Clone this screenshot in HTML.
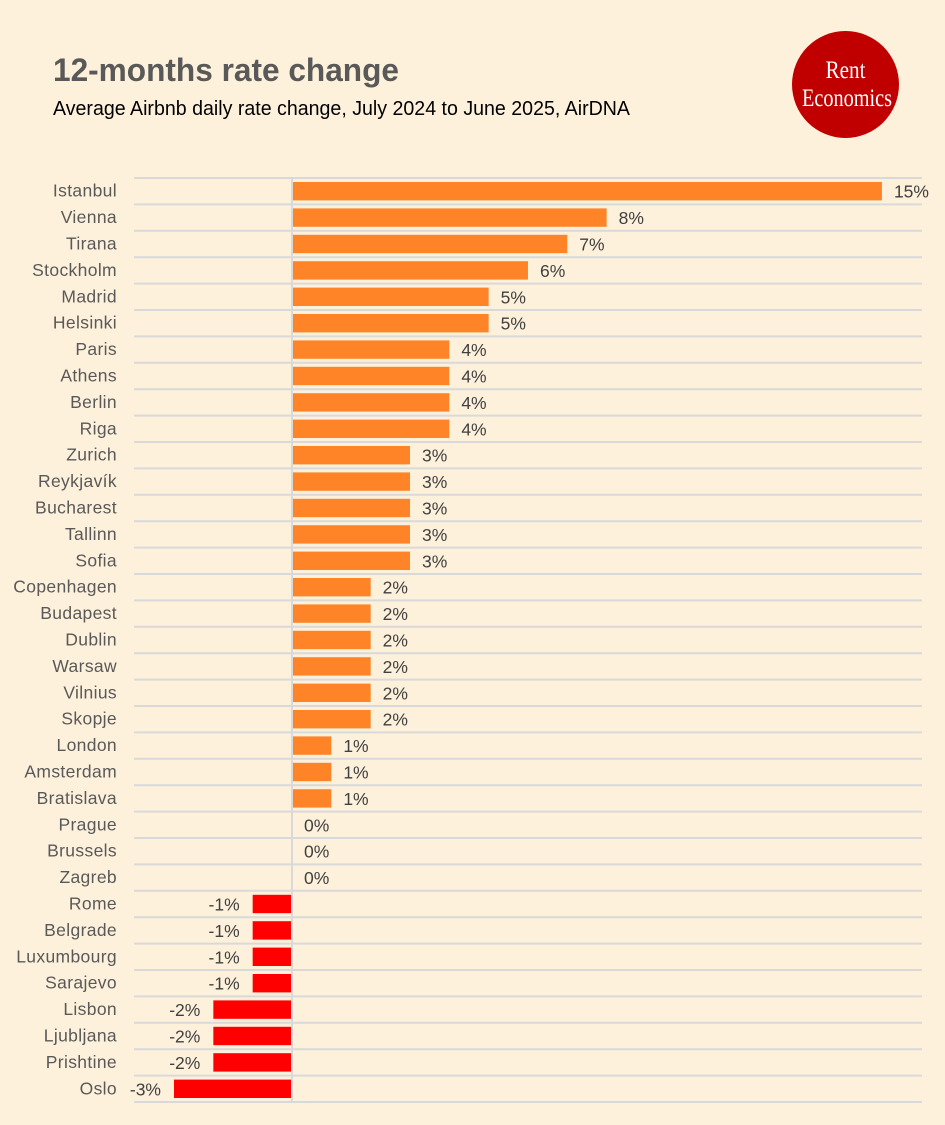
<!DOCTYPE html>
<html lang="en">
<head>
<meta charset="utf-8">
<title>12-months rate change</title>
<style>
html,body{margin:0;padding:0;background:#fef1dc;}
svg{display:block;font-family:"Liberation Sans",sans-serif;}
</style>
</head>
<body>
<svg id="chart" xmlns="http://www.w3.org/2000/svg" width="945" height="1125" viewBox="0 0 945 1125">
  <rect width="945" height="1125" fill="#fef1dc"/>
  <text x="53" y="81" font-size="32" font-weight="700" fill="#595959" textLength="346" lengthAdjust="spacingAndGlyphs">12-months rate change</text>
  <text x="53" y="115" font-size="20" fill="#000000" textLength="577" lengthAdjust="spacingAndGlyphs">Average Airbnb daily rate change, July 2024 to June 2025, AirDNA</text>
  <g>
    <circle cx="845.5" cy="84.5" r="53.5" fill="#c00000"/>
    <text x="845.5" y="78" font-size="25" fill="#ffffff" text-anchor="middle" textLength="40" lengthAdjust="spacingAndGlyphs" style="font-family:'Liberation Serif',serif">Rent</text>
    <text x="847" y="106" font-size="25" fill="#ffffff" text-anchor="middle" textLength="90" lengthAdjust="spacingAndGlyphs" style="font-family:'Liberation Serif',serif">Economics</text>
  </g>
  <g id="grid"></g>
  <g id="bars"></g>
  <g id="labels"></g>
  <g id="values"></g>
</svg>
<script>
const categories = ["Istanbul","Vienna","Tirana","Stockholm","Madrid","Helsinki","Paris","Athens","Berlin","Riga","Zurich","Reykjavík","Bucharest","Tallinn","Sofia","Copenhagen","Budapest","Dublin","Warsaw","Vilnius","Skopje","London","Amsterdam","Bratislava","Prague","Brussels","Zagreb","Rome","Belgrade","Luxumbourg","Sarajevo","Lisbon","Ljubljana","Prishtine","Oslo"];
const rateChange = [15,8,7,6,5,5,4,4,4,4,3,3,3,3,3,2,2,2,2,2,2,1,1,1,0,0,0,-1,-1,-1,-1,-2,-2,-2,-3];

const NS = "http://www.w3.org/2000/svg";
const plotTop = 178, plotBottom = 1102, plotLeft = 134, plotRight = 922;
const zeroX = 292, unitWidth = 39.33, barHeight = 18.4;
const bandHeight = (plotBottom - plotTop) / categories.length;
const xScale = function (v) { return zeroX + v * unitWidth; };
const yBand = function (i) { return plotTop + i * bandHeight; };
const make = function (tag, attrs, parent) {
  const el = document.createElementNS(NS, tag);
  Object.keys(attrs).forEach(function (k) { el.setAttribute(k, attrs[k]); });
  parent.appendChild(el);
  return el;
};
const grid = document.getElementById("grid");
const bars = document.getElementById("bars");
const labels = document.getElementById("labels");
const values = document.getElementById("values");

for (let i = 0; i <= categories.length; i++) {
  const y = yBand(i);
  const line = make("line", {x1: plotLeft, x2: plotRight, y1: y, y2: y, stroke: "#d9d9d9", "stroke-width": 2}, grid);
  
  
}
const axis = make("line", {x1: zeroX, x2: zeroX, y1: plotTop, y2: plotBottom, stroke: "#d9d9d9", "stroke-width": 2}, grid);



categories.forEach(function (name, i) {
  const v = rateChange[i];
  const cy = yBand(i) + bandHeight / 2;
  const x0 = xScale(0) + (v >= 0 ? 1 : -1);
  const x1 = xScale(v);
  if (v !== 0) {
    const bar = make("rect", {x: Math.min(x0, x1), y: cy - barHeight / 2, width: Math.abs(x1 - x0), height: barHeight, fill: v > 0 ? "#ff8427" : "#ff0000"}, bars);
    
    
  }
  const label = make("text", {x: 117, y: cy + 5.5, "text-anchor": "end", "font-size": 17.5, "letter-spacing": 0.35, fill: "#595959"}, labels);
  label.textContent = name;
  
  
  const value = make("text", {x: v >= 0 ? x1 + 12 : x1 - 13, y: cy + 6.5, "text-anchor": v >= 0 ? "start" : "end", "font-size": 17.5, fill: "#404040"}, values);
  value.textContent = v + "%";
  
  
});
</script>
</body>
</html>
